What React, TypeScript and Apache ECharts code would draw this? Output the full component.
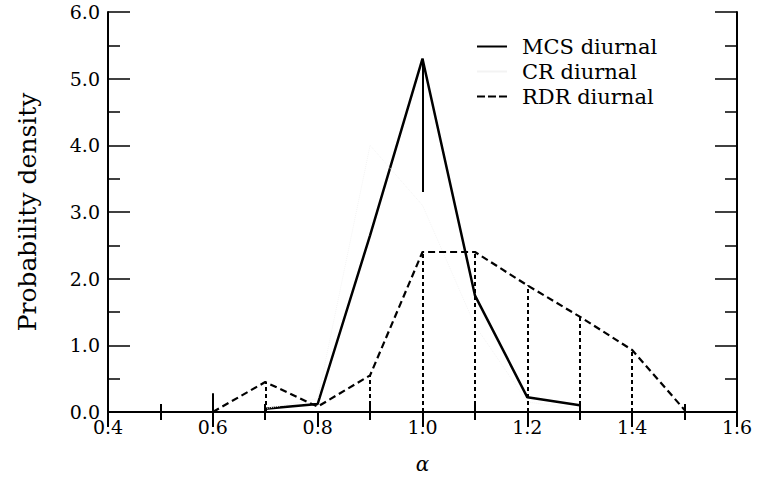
import React, { useEffect, useRef } from "react";
import * as echarts from "echarts";

// ---- data ----
const mcsX = [0.7, 0.8, 0.9, 1.0, 1.1, 1.2, 1.3];
const mcsY = [0.05, 0.12, 2.65, 5.3, 1.75, 0.22, 0.1];

const crX = [0.7, 0.8, 0.9, 1.0, 1.1, 1.2, 1.3];
const crY = [0.05, 0.2, 4.0, 3.1, 1.3, 0.15, 0.05];

const rdrX = [0.6, 0.7, 0.8, 0.9, 1.0, 1.1, 1.2, 1.3, 1.4, 1.5];
const rdrY = [0.0, 0.45, 0.08, 0.55, 2.4, 2.4, 1.9, 1.43, 0.93, 0.03];

// solid drop-line pieces visible in the reference: x, lower value, upper value
const solidStemX = [0.6, 1.0];
const solidStemLow = [0.0, 3.3];
const solidStemHigh = [0.28, 5.3];

const seriesNames = ["MCS diurnal", "CR diurnal", "RDR diurnal"];
const xTicks = [0.4, 0.6, 0.8, 1.0, 1.2, 1.4, 1.6];
const yTicks = [0.0, 1.0, 2.0, 3.0, 4.0, 5.0, 6.0];
const xTitle = "α";
const yTitle = "Probability density";

const FONT = "DejaVu Serif";
const CR_COLOR = "#f3f3f3";

export default function App() {
  const ref = useRef<HTMLDivElement>(null);
  useEffect(() => {
    if (!ref.current) return;
    const chart = echarts.init(ref.current, null, { renderer: "svg" });
    const pairs = (xs: number[], ys: number[]) => xs.map((x, i) => [x, ys[i]]);
    const xMin = xTicks[0];
    const xMax = xTicks[xTicks.length - 1];
    const yMin = yTicks[0];
    const yMax = yTicks[yTicks.length - 1];
    const xInt = xTicks[1] - xTicks[0];
    const yInt = yTicks[1] - yTicks[0];

    const axisLine = { show: true, lineStyle: { color: "#000", width: 2 } };
    const xMinor = { show: true, splitNumber: 2, length: 8, lineStyle: { color: "#000", width: 2 } };
    const baseY = {
      type: "value",
      min: yMin,
      max: yMax,
      interval: yInt,
      splitLine: { show: false },
      axisLine,
      axisTick: { show: true, inside: true, length: 22, lineStyle: { color: "#000", width: 1.5 } },
      minorTick: { show: true, splitNumber: 2, length: 12, lineStyle: { color: "#000", width: 1.5 } },
    };

    const rdrStems = rdrX
      .map((x, i) => [{ coord: [x, 0] }, { coord: [x, rdrY[i]] }])
      .filter((_, i) => rdrY[i] > 0.2);
    const solidStems = solidStemX.map((x, i) => [
      { coord: [x, solidStemLow[i]] },
      { coord: [x, solidStemHigh[i]] },
    ]);

    const solidIcon = "path://M0,0h30v2h-30z";
    const dashIcon = "path://M0,0h8v2h-8z M11,0h8v2h-8z M22,0h8v2h-8z";

    chart.setOption({
      animation: false,
      backgroundColor: "#fff",
      grid: { left: 108, right: 23, top: 12, bottom: 69 },
      legend: {
        orient: "vertical",
        left: 472,
        top: 29,
        itemGap: 0,
        itemWidth: 30,
        itemHeight: 2,
        data: [
          { name: seriesNames[0], icon: solidIcon, itemStyle: { color: "#000" } },
          { name: seriesNames[1], icon: solidIcon, itemStyle: { color: CR_COLOR } },
          { name: seriesNames[2], icon: dashIcon, itemStyle: { color: "#000" } },
        ],
        textStyle: {
          fontFamily: FONT,
          fontSize: 21,
          lineHeight: 25,
          color: "#000",
          padding: [0, 0, 0, 10],
        },
      },
      xAxis: [
        {
          type: "value",
          min: xMin,
          max: xMax,
          interval: xInt,
          splitLine: { show: false },
          axisLine,
          axisTick: { show: false, inside: true, length: 15 },
          minorTick: xMinor,
          position: "bottom",
          name: xTitle,
          nameLocation: "middle",
          nameGap: 42,
          nameTextStyle: { fontFamily: FONT, fontSize: 20, fontStyle: "italic", color: "#000" },
          axisLabel: {
            show: true,
            margin: 5,
            fontFamily: FONT,
            fontSize: 19,
            color: "#000",
            formatter: (v: number) => v.toFixed(1),
          },
        },
        {
          type: "value",
          min: xMin,
          max: xMax,
          interval: xInt,
          splitLine: { show: false },
          axisLine,
          axisTick: { show: true, inside: true, length: 15, lineStyle: { color: "#000", width: 2 } },
          minorTick: xMinor,
          position: "top",
          axisLabel: { show: false },
        },
      ],
      yAxis: [
        {
          ...baseY,
          position: "left",
          name: yTitle,
          nameLocation: "middle",
          nameRotate: 90,
          nameGap: 68,
          nameTextStyle: { fontFamily: FONT, fontSize: 25, color: "#000" },
          axisLabel: {
            show: true,
            margin: 8,
            fontFamily: FONT,
            fontSize: 19,
            color: "#000",
            formatter: (v: number) => v.toFixed(1),
          },
        },
        { ...baseY, position: "right", axisLabel: { show: false } },
      ],
      series: [
        {
          name: seriesNames[0],
          type: "line",
          data: pairs(mcsX, mcsY),
          symbol: "none",
          lineStyle: { color: "#000", width: 2.5, type: "solid" },
          itemStyle: { color: "#000" },
          markLine: {
            silent: true,
            symbol: ["none", "none"],
            label: { show: false },
            lineStyle: { color: "#000", width: 2, type: "solid" },
            data: solidStems,
          },
        },
        {
          name: seriesNames[1],
          type: "line",
          data: pairs(crX, crY),
          symbol: "none",
          lineStyle: { color: CR_COLOR, width: 1, type: "dotted" },
          itemStyle: { color: CR_COLOR },
        },
        {
          name: seriesNames[2],
          type: "line",
          data: pairs(rdrX, rdrY),
          symbol: "none",
          lineStyle: { color: "#000", width: 2.2, type: [7, 4] },
          itemStyle: { color: "#000" },
          markLine: {
            silent: true,
            symbol: ["none", "none"],
            label: { show: false },
            lineStyle: { color: "#000", width: 2, type: [4, 3] },
            data: rdrStems,
          },
        },
      ],
    });
    return () => chart.dispose();
  }, []);
  return (
    <div
      ref={ref}
      style={{ position: "fixed", left: 0, top: 0, width: 760, height: 481, background: "#fff" }}
    />
  );
}
